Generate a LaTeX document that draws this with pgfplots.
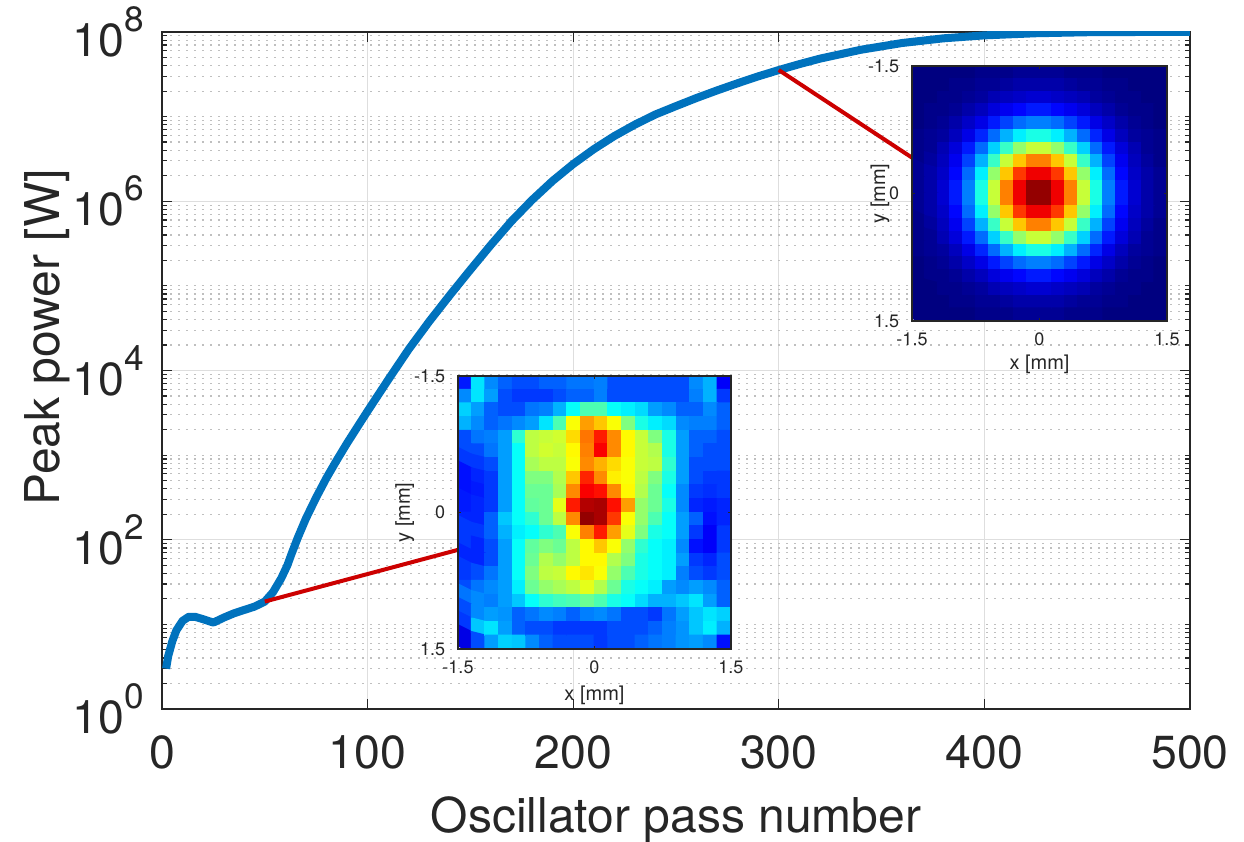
\documentclass[border=0pt]{standalone}
\usepackage{fontspec}
\setmainfont{TeX Gyre Heros}
\usepackage{pgfplots}
\pgfplotsset{compat=1.18}

\definecolor{mblue}{RGB}{0,114,189}
\definecolor{mred}{RGB}{204,0,0}
\definecolor{txt}{RGB}{38,38,38}

\newcommand\tenpow[1]{10\raisebox{6.2pt}{\fontsize{8.8}{9}\selectfont #1}}

\pgfplotsset{
  beam/.style={
    scale only axis, axis on top, enlargelimits=false,
    colormap/jet, point meta min=0, point meta max=100,
    xmin=-1.5, xmax=1.5, ymin=-1.5, ymax=1.5, y dir=reverse,
    xtick={-1.5,0,1.5}, ytick={-1.5,0,1.5},
    xticklabels={-1.5,0,1.5}, yticklabels={-1.5,0,1.5},
    tick align=inside, major tick length=0.8pt, tick style={txt},
    axis line style={txt, line width=0.3pt},
    ticklabel style={font=\fontsize{4.5}{5}\selectfont, text=txt},
    xticklabel style={yshift=0.5pt},
    yticklabel style={xshift=0.3pt},
    label style={font=\fontsize{5}{6}\selectfont, text=txt},
    xlabel={x [mm]}, ylabel={y [mm]},
    xlabel style={at={(axis description cs:0.5,-0.17)}, anchor=center},
  },
  pix/.style={matrix plot*, mesh/cols=20, point meta=explicit},
}

\begin{document}
\begin{tikzpicture}
\useasboundingbox (-40.5pt,-33.25pt) rectangle (270.5pt,177.25pt);

\begin{axis}[
  name=main, at={(0,0)}, anchor=south west,
  scale only axis, width=257pt, height=169.25pt,
  xmin=0, xmax=500, ymin=1, ymax=1e8, ymode=log,
  xtick={0,100,200,300,400,500}, xticklabels={0,100,200,300,400,500},
  ytick={1,100,10000,1000000,100000000},
  yticklabels={\tenpow{0},\tenpow{2},\tenpow{4},\tenpow{6},\tenpow{8}},
  minor ytick={2,3,4,5,6,7,8,9,10,20,30,40,50,60,70,80,90,200,300,400,500,600,700,800,900,1000,2000,3000,4000,5000,6000,7000,8000,9000,2e4,3e4,4e4,5e4,6e4,7e4,8e4,9e4,1e5,2e5,3e5,4e5,5e5,6e5,7e5,8e5,9e5,2e6,3e6,4e6,5e6,6e6,7e6,8e6,9e6,1e7,2e7,3e7,4e7,5e7,6e7,7e7,8e7,9e7},
  grid=both,
  major grid style={black!13, line width=0.3pt},
  minor grid style={black!25, line width=0.3pt, dash pattern=on 0.5pt off 1.5pt},
  tick align=inside, tick pos=both,
  major tick length=2.5pt, minor tick length=1.3pt,
  tick style={txt, line width=0.3pt},
  axis line style={txt, line width=0.45pt},
  ticklabel style={font=\fontsize{11.6}{13}\selectfont, text=txt},
  xticklabel style={yshift=-3pt},
  yticklabel style={xshift=-1pt},
  label style={font=\fontsize{12}{14}\selectfont, text=txt},
  xlabel={Oscillator pass number},
  ylabel={Peak power [W]},
  xlabel style={at={(axis description cs:0.5,-0.182)}, anchor=base},
  ylabel style={at={(axis description cs:-0.0995,0.549)}, anchor=base},
]
\addplot[mblue, line width=2pt, line join=round] coordinates {
(2,3.0) (3,4.2) (5,6.3) (7,8.5) (10,11) (13,12.3) (16,12.3) (20,11.5)
(25,10.5) (30,12) (35,13.5) (40,14.8) (45,16.2) (50,18.6) (54,24) (58,35)
(61,50) (63,68) (66,105) (70,178) (75,316) (80,537) (85,870) (90,1380)
(95,2140) (100,3310) (110,7760) (120,17800) (130,38000) (140,77600)
(150,155000) (160,305000) (170,582000) (180,1.035e6) (190,1.74e6)
(200,2.75e6) (210,4.12e6) (220,5.89e6) (230,8.04e6) (240,1.06e7)
(250,1.33e7) (260,1.66e7) (270,2.04e7) (280,2.48e7) (290,2.99e7)
(300,3.55e7) (310,4.17e7) (320,4.84e7) (340,6.17e7) (360,7.41e7)
(380,8.41e7) (400,9.12e7) (425,9.66e7) (450,9.93e7) (475,1e8) (500,1e8)};
\addplot[mred, line width=1pt] coordinates {(50,18.6) (144,76)};
\addplot[mred, line width=1pt] coordinates {(300,3.55e7) (365,3.25e6)};
\end{axis}

% early beam profile
\begin{axis}[beam, at={(74pt,15pt)}, anchor=south west,
  width=68.25pt, height=68.25pt,
  ylabel style={at={(axis description cs:-0.195,0.5)}, anchor=center}]
\addplot[pix] table[row sep=\\, meta=c,
  x expr={-1.425+0.15*mod(\coordindex,20)},
  y expr={-1.425+0.15*floor(\coordindex/20)}] {
c\\
15\\35\\26\\22\\20\\20\\22\\22\\24\\24\\25\\20\\20\\20\\20\\20\\20\\26\\30\\12\\
26\\35\\28\\20\\18\\18\\18\\20\\22\\22\\25\\20\\20\\20\\20\\20\\20\\25\\30\\18\\
33\\28\\22\\20\\20\\24\\25\\30\\38\\45\\45\\38\\36\\34\\28\\26\\22\\22\\26\\22\\
30\\26\\22\\24\\26\\28\\35\\45\\62\\72\\68\\62\\50\\40\\36\\34\\26\\25\\25\\22\\
20\\24\\25\\28\\42\\56\\57\\58\\66\\76\\85\\74\\63\\57\\50\\40\\28\\22\\22\\20\\
20\\20\\24\\28\\38\\56\\58\\57\\63\\75\\88\\74\\63\\57\\55\\40\\28\\22\\20\\20\\
18\\18\\20\\28\\38\\54\\56\\56\\62\\74\\70\\66\\62\\57\\56\\42\\28\\20\\20\\20\\
14\\16\\18\\28\\38\\50\\50\\55\\68\\84\\74\\64\\62\\56\\50\\40\\28\\20\\18\\18\\
14\\15\\18\\28\\38\\48\\48\\54\\74\\88\\86\\74\\63\\55\\48\\38\\26\\18\\17\\18\\
15\\16\\18\\28\\38\\47\\48\\60\\85\\95\\96\\86\\72\\52\\48\\40\\26\\16\\15\\16\\
16\\16\\22\\32\\38\\42\\48\\56\\74\\98\\96\\82\\62\\52\\45\\38\\28\\22\\14\\16\\
18\\18\\22\\30\\36\\38\\42\\45\\62\\75\\85\\72\\60\\50\\40\\38\\28\\18\\12\\18\\
18\\16\\20\\28\\38\\47\\50\\48\\56\\63\\68\\62\\52\\42\\38\\36\\26\\14\\12\\18\\
16\\16\\20\\28\\38\\48\\55\\52\\56\\63\\63\\55\\50\\40\\38\\36\\28\\18\\16\\20\\
18\\20\\24\\28\\38\\50\\56\\57\\63\\65\\62\\52\\45\\40\\38\\36\\25\\20\\18\\20\\
20\\24\\26\\28\\36\\48\\52\\54\\56\\60\\55\\48\\40\\38\\36\\28\\26\\28\\26\\22\\
24\\26\\25\\28\\32\\38\\42\\44\\45\\48\\45\\40\\38\\34\\30\\30\\32\\35\\28\\22\\
20\\26\\28\\27\\22\\24\\26\\25\\22\\25\\26\\24\\20\\20\\18\\24\\28\\32\\35\\33\\
18\\32\\35\\28\\22\\20\\20\\18\\18\\18\\18\\20\\20\\20\\22\\25\\27\\32\\36\\30\\
10\\20\\28\\33\\32\\26\\22\\20\\20\\20\\18\\20\\20\\22\\24\\25\\27\\28\\26\\14\\
};
\end{axis}

% saturated beam profile
\begin{axis}[beam, at={(187.5pt,97pt)}, anchor=south west,
  width=63.75pt, height=63.75pt,
  ylabel style={at={(axis description cs:-0.125,0.5)}, anchor=center}]
\addplot[pix] table[row sep=\\, meta=c,
  x expr={-1.425+0.15*mod(\coordindex,20)},
  y expr={-1.425+0.15*floor(\coordindex/20)}] {
c\\
0\\0\\0\\0\\0\\1\\1\\1\\2\\2\\2\\2\\1\\1\\1\\0\\0\\0\\0\\0\\
0\\0\\0\\1\\1\\2\\2\\3\\4\\4\\4\\4\\3\\2\\2\\1\\1\\0\\0\\0\\
0\\0\\1\\1\\2\\3\\5\\6\\7\\8\\8\\7\\6\\5\\3\\2\\1\\1\\0\\0\\
0\\1\\1\\2\\4\\6\\9\\11\\13\\15\\15\\13\\11\\9\\6\\4\\2\\1\\1\\0\\
0\\1\\2\\4\\7\\10\\15\\19\\23\\25\\25\\23\\19\\15\\10\\7\\4\\2\\1\\0\\
1\\2\\3\\6\\10\\16\\23\\30\\36\\40\\40\\36\\30\\23\\16\\10\\6\\3\\2\\1\\
1\\2\\5\\9\\15\\23\\33\\43\\52\\57\\57\\52\\43\\33\\23\\15\\9\\5\\2\\1\\
1\\3\\6\\11\\19\\30\\43\\57\\68\\75\\75\\68\\57\\43\\30\\19\\11\\6\\3\\1\\
2\\4\\7\\13\\23\\36\\52\\68\\82\\89\\89\\82\\68\\52\\36\\23\\13\\7\\4\\2\\
2\\4\\8\\15\\25\\40\\57\\75\\89\\98\\98\\89\\75\\57\\40\\25\\15\\8\\4\\2\\
2\\4\\8\\15\\25\\40\\57\\75\\89\\98\\98\\89\\75\\57\\40\\25\\15\\8\\4\\2\\
2\\4\\7\\13\\23\\36\\52\\68\\82\\89\\89\\82\\68\\52\\36\\23\\13\\7\\4\\2\\
1\\3\\6\\11\\19\\30\\43\\57\\68\\75\\75\\68\\57\\43\\30\\19\\11\\6\\3\\1\\
1\\2\\5\\9\\15\\23\\33\\43\\52\\57\\57\\52\\43\\33\\23\\15\\9\\5\\2\\1\\
1\\2\\3\\6\\10\\16\\23\\30\\36\\40\\40\\36\\30\\23\\16\\10\\6\\3\\2\\1\\
0\\1\\2\\4\\7\\10\\15\\19\\23\\25\\25\\23\\19\\15\\10\\7\\4\\2\\1\\0\\
0\\1\\1\\2\\4\\6\\9\\11\\13\\15\\15\\13\\11\\9\\6\\4\\2\\1\\1\\0\\
0\\0\\1\\1\\2\\3\\5\\6\\7\\8\\8\\7\\6\\5\\3\\2\\1\\1\\0\\0\\
0\\0\\0\\1\\1\\2\\2\\3\\4\\4\\4\\4\\3\\2\\2\\1\\1\\0\\0\\0\\
0\\0\\0\\0\\0\\1\\1\\1\\2\\2\\2\\2\\1\\1\\1\\0\\0\\0\\0\\0\\
};
\end{axis}
\end{tikzpicture}
\end{document}
